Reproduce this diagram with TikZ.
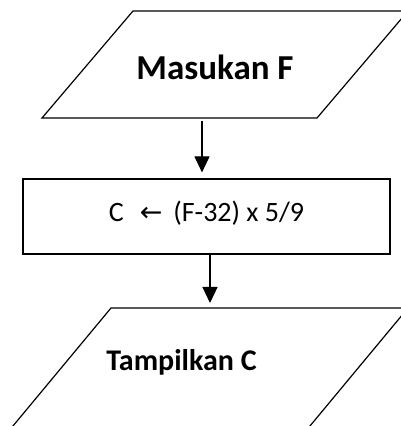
\documentclass[tikz,border=0pt]{standalone}
\usepackage{fontspec}
\setmainfont{Carlito}
\newfontfamily\arrowfont{DejaVu Sans}
\usetikzlibrary{arrows.meta}

\begin{document}
\begin{tikzpicture}[x=1pt,y=1pt,line width=1.2pt,
    proc/.style={draw,rectangle,inner sep=0pt},
    flow/.style={-{Triangle[length=16pt,width=15pt]}}]
      \useasboundingbox (0,0) rectangle (401,426);
      % input block
      \draw (133,415) -- (408,415) -- (317,308) coordinate (inbot) -- (42,308) -- cycle;
      \node [font=\fontsize{35}{42}\selectfont\bfseries] (intext) at (215,359) {Masukan F};
      % process block
      \node [proc,minimum width=367,minimum height=75,text depth=10pt] (calc) at (206.5,209.5)
        {\fontsize{28}{34}\selectfont C\hspace{16pt}{\arrowfont\fontsize{27}{30}\selectfont ←}\hspace{11pt}(F-32) x 5/9};
      % output block
      \draw (111,118) coordinate (outtop) -- (408,118) -- (300,-12) -- (3,-12) -- cycle;
      \node [font=\fontsize{30}{36}\selectfont\bfseries] (outtext) at (181.5,64) {Tampilkan C};
      % arrows
      \coordinate (a1) at (202,0);
      \coordinate (a2) at (210,0);
      \draw [flow,shorten <=3pt,shorten >=6pt] (inbot -| a1) -- (calc.north -| a1);
      \draw [flow,shorten >=5pt] (calc.south -| a2) -- (outtop -| a2);
\end{tikzpicture}
\end{document}
